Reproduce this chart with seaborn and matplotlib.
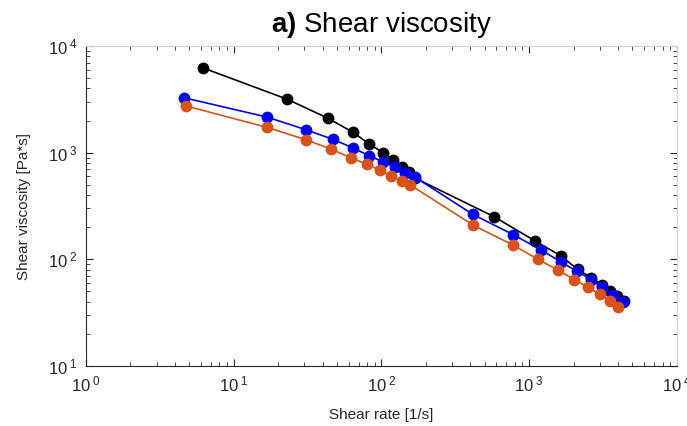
import matplotlib
matplotlib.use("Agg")
import matplotlib.pyplot as plt
import matplotlib.ticker as mticker
import numpy as np
import pandas as pd
import seaborn as sns

# shear rate [1/s] and viscosity [Pa*s] for the three samples
rate_black = [6.22, 23.0, 43.5, 64.2, 82.4, 102.9, 120.3, 137.6, 152.7, 168,
              575, 1094, 1650, 2125, 2633, 3098, 3530, 3945, 4377]
visc_black = [6220, 3170, 2100, 1553, 1207, 1000, 855, 740, 660, 580,
              252, 149, 107, 80.6, 67.1, 58.1, 50.9, 45.6, 40.9]

rate_blue = [4.58, 16.7, 30.7, 46.8, 64.2, 82.4, 102.9, 123.4, 144.8, 169.2,
             415, 782, 1196, 1640, 2110, 2633, 3127, 3684, 4337]
visc_blue = [3278, 2161, 1643, 1335, 1107, 937, 818, 730, 649, 588,
             264, 170, 123, 94.5, 77.0, 64.7, 54.8, 46.6, 40.1]

rate_orange = [4.77, 16.7, 30.7, 45.8, 61.8, 79.4, 97.2, 115.6, 136.6, 156.6,
               418, 778, 1150, 1568, 2013, 2499, 2993, 3535, 4000]
visc_orange = [2740, 1730, 1324, 1076, 898, 779, 684, 605, 547, 498,
               209, 136, 100, 78.9, 64.7, 54.8, 47.0, 40.9, 35.9]

frames = []
for name, r, v in [("black", rate_black, visc_black),
                   ("blue", rate_blue, visc_blue),
                   ("orange", rate_orange, visc_orange)]:
    frames.append(pd.DataFrame({"rate": r, "visc": v, "sample": name}))
df = pd.concat(frames, ignore_index=True)

sns.set_style("ticks")
plt.rcParams["font.family"] = ["Liberation Sans", "DejaVu Sans"]
plt.rcParams["mathtext.fontset"] = "custom"
plt.rcParams["mathtext.rm"] = "Liberation Sans"
plt.rcParams["mathtext.bf"] = "Liberation Sans:bold"
plt.rcParams["mathtext.it"] = "Liberation Sans:italic"

fig = plt.figure(figsize=(6.87, 4.26), dpi=100)
ax = fig.add_axes([0.1252, 0.1408, 0.8602, 0.7512])

palette = {"black": "#000000", "blue": "#0000FF", "orange": "#D95319"}
sns.lineplot(data=df, x="rate", y="visc", hue="sample", palette=palette,
             marker="o", markersize=8.5, markeredgewidth=0, linewidth=1.2,
             sort=False, legend=False, ax=ax)

ax.set_xscale("log")
ax.set_yscale("log")
ax.set_xlim(1, 1e4)
ax.set_ylim(10, 1e4)

fmt = mticker.FuncFormatter(lambda v, p: r"$10^{\ %d}$" % int(round(np.log10(v))))
ax.xaxis.set_major_locator(mticker.LogLocator(base=10, numticks=10))
ax.yaxis.set_major_locator(mticker.LogLocator(base=10, numticks=10))
ax.xaxis.set_minor_locator(mticker.LogLocator(base=10, subs=np.arange(2, 10), numticks=20))
ax.yaxis.set_minor_locator(mticker.LogLocator(base=10, subs=np.arange(2, 10), numticks=20))
ax.xaxis.set_minor_formatter(mticker.NullFormatter())
ax.yaxis.set_minor_formatter(mticker.NullFormatter())
ax.xaxis.set_major_formatter(fmt)
ax.yaxis.set_major_formatter(fmt)

ax.tick_params(which="both", direction="in", top=True, right=True,
               labelsize=12, colors="#262626", labelcolor="#262626")
ax.tick_params(which="major", length=5, width=0.8, pad=6)
ax.tick_params(which="minor", length=3, width=0.6)
for s in ax.spines.values():
    s.set_linewidth(0.8)
    s.set_color("#262626")
ax.spines["top"].set_color("#d0d0d0")
ax.spines["right"].set_color("#d0d0d0")

ax.set_xlabel("Shear rate [1/s]", fontsize=11, labelpad=10, color="#262626")
ax.set_ylabel("Shear viscosity [Pa*s]", fontsize=11, labelpad=12, color="#262626")
ax.set_title(r"$\bf{a)}$ Shear viscosity", fontsize=20, pad=10, color="black")

fig.savefig("out.png", dpi=100)
